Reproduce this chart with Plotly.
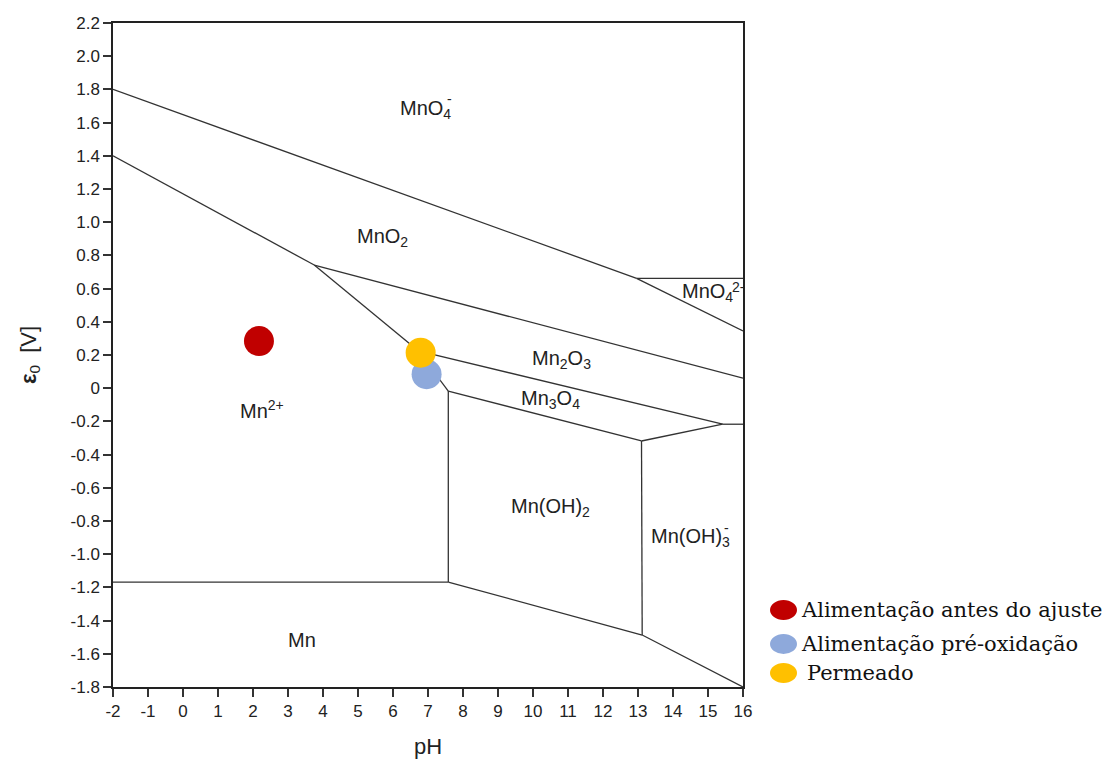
import plotly.graph_objects as go

# Boundary lines of the Pourbaix diagram (pH, E0)
boundaries = {
    "MnO4-/MnO2":      ([-2, 12.96], [1.80, 0.662]),
    "MnO4-/MnO4 2-":   ([12.96, 16], [0.662, 0.662]),
    "MnO4 2-/MnO2":    ([12.96, 16], [0.662, 0.345]),
    "Mn2+/MnO2":       ([-2, 3.75], [1.40, 0.742]),
    "MnO2/Mn2O3":      ([3.75, 16], [0.742, 0.060]),
    "Mn2+/Mn2O3":      ([3.75, 6.72], [0.742, 0.225]),
    "Mn2O3/Mn3O4":     ([6.72, 15.42], [0.225, -0.217]),
    "Mn2O3/Mn(OH)3-":  ([15.42, 16], [-0.217, -0.217]),
    "Mn2+/Mn3O4":      ([6.72, 7.58], [0.225, -0.017]),
    "Mn3O4/Mn(OH)2":   ([7.58, 13.10], [-0.017, -0.318]),
    "Mn3O4/Mn(OH)3-":  ([13.10, 15.42], [-0.318, -0.217]),
    "Mn2+/Mn(OH)2":    ([7.58, 7.58], [-0.017, -1.168]),
    "Mn2+/Mn":         ([-2, 7.58], [-1.168, -1.168]),
    "Mn/Mn(OH)2":      ([7.58, 13.12], [-1.168, -1.487]),
    "Mn(OH)2/Mn(OH)3-": ([13.10, 13.12], [-0.318, -1.487]),
    "Mn/Mn(OH)3-":     ([13.12, 16], [-1.487, -1.80]),
}

# Species labels: (text, pH, E0)
label_text = ["MnO<sub>4</sub>", "MnO<sub>2</sub>", "Mn<sub>2</sub>O<sub>3</sub>", "Mn<sub>3</sub>O<sub>4</sub>",
              "Mn<sup>2+</sup>", "Mn(OH)<sub>2</sub>", "Mn", "MnO<sub>4</sub>", "Mn(OH)<sub>3</sub>"]
label_x = [6.94, 5.71, 10.8, 10.5, 2.26, 10.49, 3.4, 14.98, 14.49]
label_y = [1.676, 0.905, 0.17, -0.071, -0.131, -0.72, -1.517, 0.574, -0.902]

# stacked charges (superscripts above subscripts)
charge_text = ["-", "2-", "-"]
charge_x = [7.6, 15.86, 15.54]
charge_y = [1.74, 0.607, -0.842]

# Sample points
series_names = ["Alimentação antes do ajuste", "Alimentação pré-oxidação", "Permeado"]
series_ph = [2.17, 6.96, 6.79]
series_e0 = [0.284, 0.084, 0.214]
series_colors = ["#C00000", "#8EA9DB", "#FFC000"]

x_ticks = list(range(-2, 17))
y_ticks = [round(-1.8 + 0.2 * i, 1) for i in range(21)]
y_tick_text = ["0" if abs(v) < 1e-9 else f"{v:.1f}" for v in y_ticks]

fig = go.Figure()
for name, (xs, ys) in boundaries.items():
    fig.add_trace(go.Scatter(x=xs, y=ys, mode="lines", line=dict(color="#333333", width=1.3),
                             hoverinfo="skip", showlegend=False))

for i in range(3):
    fig.add_trace(go.Scatter(x=[series_ph[i]], y=[series_e0[i]], mode="markers", name=series_names[i],
                             marker=dict(size=30, color=series_colors[i]), showlegend=False))

lab_font = dict(family="Liberation Sans, Arial", size=20, color="#222222")
annotations = []
for t, x, y in zip(label_text, label_x, label_y):
    annotations.append(dict(x=x, y=y, text=t, showarrow=False, font=lab_font))
for t, x, y in zip(charge_text, charge_x, charge_y):
    annotations.append(dict(x=x, y=y, text=t, showarrow=False,
                            font=dict(family="Liberation Sans, Arial", size=14, color="#222222")))

# custom legend (outside plot, right)
leg_font = dict(family="DejaVu Serif", size=21, color="#111111")
leg_y = [0.116, 0.0648, 0.0211]
leg_tx = [1.0889, 1.0889, 1.098]
shapes = []
for i in range(3):
    cy = leg_y[i]
    shapes.append(dict(type="circle", xref="paper", yref="paper",
                       x0=1.0429, x1=1.0857, y0=cy - 0.0151, y1=cy + 0.0151,
                       fillcolor=series_colors[i], line=dict(width=0)))
    annotations.append(dict(xref="paper", yref="paper", x=leg_tx[i], y=cy, xanchor="left",
                            yanchor="middle", text=series_names[i], showarrow=False, font=leg_font))

fig.update_layout(
    width=1102, height=760,
    margin=dict(l=113, r=359, t=23, b=73),
    plot_bgcolor="white", paper_bgcolor="white",
    annotations=annotations, shapes=shapes,
    showlegend=False,
)
axis_common = dict(showgrid=False, zeroline=False, showline=True, linecolor="#222222", linewidth=1.5,
                   mirror=True, ticks="outside", ticklen=8, tickcolor="#333333", tickwidth=1.5,
                   automargin=False,
                   tickfont=dict(family="Liberation Sans, Arial", size=17, color="#222222"))
fig.update_xaxes(range=[-2, 16], tickvals=x_ticks, ticktext=[str(v) for v in x_ticks],
                 title=dict(text="pH", font=dict(family="Liberation Sans, Arial", size=22, color="#222222"), standoff=18),
                 **axis_common)
fig.update_yaxes(range=[-1.8, 2.2], tickvals=y_ticks, ticktext=y_tick_text,
                 title=dict(text="<b>ε</b><sub>0</sub>  [V]", font=dict(family="Liberation Sans, Arial", size=22, color="#222222"), standoff=28),
                 **axis_common)

fig.write_html("out.html")
